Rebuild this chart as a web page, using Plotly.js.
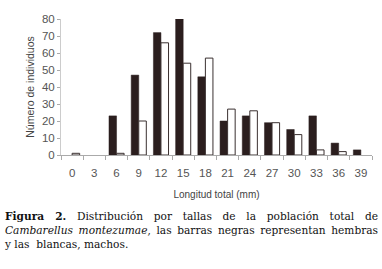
<!DOCTYPE html>
<html><head><meta charset="utf-8">
<script src="https://cdn.plot.ly/plotly-3.0.1.min.js"></script>
<style>
html,body{margin:0;padding:0;background:#fff;}
#wrap{position:relative;width:382px;height:269px;overflow:hidden;}
#chart{position:absolute;left:0;top:0;width:382px;height:269px;}
#cap{position:absolute;left:5px;top:209px;width:373px;font-family:"DejaVu Serif","Liberation Serif",serif;font-size:10.6px;line-height:14px;color:#111;}
#cap div{white-space:nowrap;}
#cap .j{text-align:justify;text-align-last:justify;white-space:normal;}
</style></head>
<body><div id="wrap"><div id="chart"></div>
<div id="cap">
<div class="j"><b>Figura 2.</b> Distribución por tallas de la población total de</div>
<div class="j"><i>Cambarellus montezumae</i>, las barras negras representan hembras</div>
<div>y las &nbsp;blancas, machos.</div>
</div></div>
<script>
const categories = ["0","3","6","9","12","15","18","21","24","27","30","33","36","39"];
const hembras = [0,0,23,47,72,80,46,20,23,19,15,23,7,3];
const machos  = [1,0,1,20,66,54,57,27,26,19,12,3,2,0];
const yTicks = [0,10,20,30,40,50,60,70,80];

const data = [
  {type:"bar", x:categories, y:hembras, name:"Hembras",
   marker:{color:"#2b1e1e", line:{color:"#2b1e1e", width:hembras.map(v => v > 0 ? 0.5 : 0)}}},
  {type:"bar", x:categories, y:machos, name:"Machos",
   marker:{color:"#ffffff", line:{color:"#3a3030", width:machos.map(v => v > 0 ? 1 : 0)}}}
];
const tickFont = {family:"Liberation Sans, Arial, sans-serif", size:11.5, color:"#555"};
const layout = {
  width:382, height:269,
  margin:{l:61, r:10, t:19, b:114, pad:0},
  paper_bgcolor:"#fff", plot_bgcolor:"#fff",
  showlegend:false,
  barmode:"group", bargap:0.32, bargroupgap:0,
  xaxis:{type:"category", tickson:"boundaries", ticks:"outside", ticklen:4, tickcolor:"#aaa",
    showline:true, linecolor:"#aaa", linewidth:1, showgrid:false, zeroline:false,
    tickfont:tickFont, tickangle:0, ticklabelstandoff:7,
    title:{text:"Longitud total (mm)", font:{family:"Liberation Sans, Arial, sans-serif", size:10, color:"#444"}, standoff:13}},
  yaxis:{range:[0,80], tickvals:yTicks, ticks:"outside", ticklen:3, tickcolor:"#aaa",
    showline:true, linecolor:"#ccc", linewidth:1, showgrid:false, zeroline:false,
    tickfont:tickFont,
    title:{text:"Número de individuos", font:{family:"Liberation Sans, Arial, sans-serif", size:10.5, color:"#444"}, standoff:5}}
};
Plotly.newPlot("chart", data, layout, {displayModeBar:false, staticPlot:true});
</script></body></html>
